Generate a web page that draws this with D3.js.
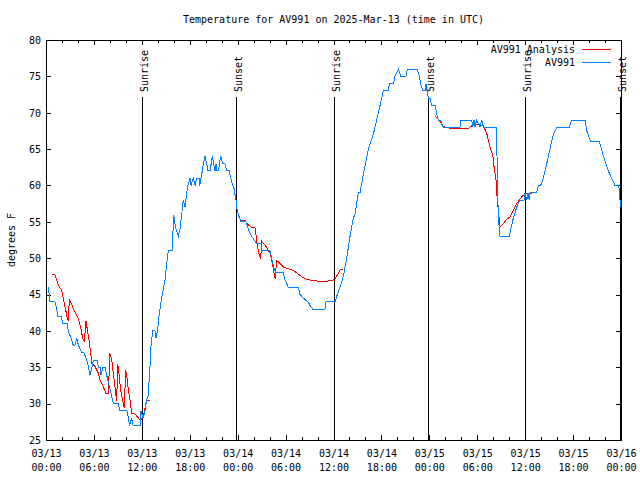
<!DOCTYPE html>
<html><head><meta charset="utf-8">
<script src="https://cdn.jsdelivr.net/npm/d3@7/dist/d3.min.js"></script>
<style>
body{margin:0;background:#fff;}
text{font-family:"DejaVu Sans Mono",monospace;font-size:10px;fill:#000;}
</style></head>
<body><svg id="c" width="640" height="480"></svg>
<script>
const title = "Temperature for AV991 on 2025-Mar-13 (time in UTC)";
const yLabel = "degrees F";
const seriesNames = ["AV991 Analysis", "AV991"];
const seriesColors = ["#ff0000", "#0080ff"];
// hours since 2025-03-13 00:00 UTC
const xMajorTicks = [0,6,12,18,24,30,36,42,48,54,60,66,72];
const xTickLabels = [["03/13","00:00"],["03/13","06:00"],["03/13","12:00"],["03/13","18:00"],
  ["03/14","00:00"],["03/14","06:00"],["03/14","12:00"],["03/14","18:00"],
  ["03/15","00:00"],["03/15","06:00"],["03/15","12:00"],["03/15","18:00"],["03/16","00:00"]];
const yTicks = [25,30,35,40,45,50,55,60,65,70,75,80];
const sunEvents = [["Sunrise",12.02],["Sunset",23.79],["Sunrise",36.06],["Sunset",47.83],["Sunrise",59.98],["Sunset",71.88]];

// observations [hour, degF]
const obs = [[0.29,46],[0.5,44],[1.13,44],[1.34,43],[1.5,42],[1.97,42],[2.04,41],[2.67,41],[2.79,40],[3.13,39],[3.42,38],[3.63,38],[3.84,39],[4.07,38],[4.47,37],[4.76,37],[5.10,36],[5.32,35],[5.51,34],[5.76,35],[5.95,36],[6.39,36],[6.57,35],[6.76,35],[6.89,34],[7.14,35],[7.39,35],[7.58,34],[7.80,33],[8.01,32],[8.23,31],[8.43,30],[9.02,30],[9.27,29],[10.14,29],[10.33,28],[10.45,27],[10.6,27.5],[10.73,28],[10.9,27],[11.8,27],[11.9,29],[12.15,28],[12.4,29],[12.61,30.5],[12.77,31],[12.9,33],[13.02,35],[13.15,38],[13.36,40],[13.65,40],[13.77,39],[13.96,40],[14.15,42],[14.4,44],[14.65,45.5],[14.9,47],[15.19,50],[15.31,51],[15.78,51],[15.86,52.5],[15.99,56],[16.11,55],[16.28,54],[16.57,53],[16.78,54],[16.99,56],[17.19,58],[17.4,57],[17.62,59],[17.78,60],[18.03,61],[18.16,60],[18.44,61],[18.66,60],[18.87,61],[19.16,61],[19.24,60],[19.41,61],[19.57,62],[19.7,63],[19.91,64],[20.12,63],[20.29,62],[20.54,62],[20.82,64],[21.16,62],[21.29,63],[21.41,62],[21.58,62],[21.87,64],[22.16,63],[22.41,63],[22.63,62],[22.95,62],[23.13,61],[23.38,60],[23.58,59.5],[23.7,58.5],[23.79,58],[23.88,57],[24.08,56],[24.42,55],[25.04,55],[25.17,54.5],[25.33,54],[25.54,53.5],[25.76,53],[26.38,52],[26.92,52],[27.01,51],[28.05,51],[28.26,50],[28.46,49],[28.76,48],[29.71,48],[29.93,47],[30.34,46],[31.59,46],[31.81,45],[32.22,44.5],[32.81,44],[33.06,43.5],[33.4,43],[34.94,43],[35.06,44],[36.19,44],[36.48,45],[36.81,46],[37.23,47.5],[37.65,50],[38.07,53],[38.48,55.5],[38.69,56],[39.11,59],[39.32,59],[39.73,61.5],[40.36,65],[40.98,67],[41.2,68],[41.61,70],[42.04,72],[42.24,73],[42.86,73],[42.99,74],[43.49,74],[43.7,75],[44.11,76],[44.42,75],[45.08,75],[45.24,76],[46.49,76],[46.75,75],[46.92,74],[47.17,73],[47.46,73],[47.58,74],[47.75,73],[47.87,72],[48.08,72],[48.29,71],[48.71,71],[48.9,70],[49.12,69],[49.42,69],[49.75,68],[51.84,68],[51.93,69],[53.31,69],[53.43,68],[53.6,69],[53.72,68],[53.91,69],[54.35,68],[54.56,69],[54.76,68],[56.44,68],[56.51,60],[56.64,56],[56.76,54],[56.85,53],[58.01,53],[58.19,54],[58.52,55.5],[58.94,57],[59.35,58],[59.86,58],[59.98,59],[60.19,58],[60.39,59],[60.5,58],[60.61,59],[61.44,59],[61.64,60],[61.94,60],[62.27,61],[62.61,62.5],[62.9,64],[63.2,65.5],[63.52,67],[63.95,68],[65.53,68],[65.83,69],[67.49,69],[67.71,67.5],[67.91,67],[68.21,66],[69.28,66],[69.58,65],[69.79,64],[70.12,63],[70.41,62],[70.84,61],[71.25,60],[71.67,60],[71.79,59.5],[71.88,58],[71.94,57]];

// analysis [hour, degF], null = gap
const analysis = [[0.71,47.7],[1.13,47.7],[1.34,47],[1.67,46],[1.97,45.6],[2.25,44],[2.47,42.9],[2.67,41.7],[2.79,41.5],[2.92,44.25],[3.22,43.6],[3.63,42.6],[4.04,41.7],[4.35,40.4],[4.6,39],[4.8,38.5],[5.01,41.3],[5.22,39.9],[5.38,38.75],[5.6,36.9],[5.76,35.5],[6.14,35.1],[6.55,34.2],[6.76,33.25],[7.18,32.3],[7.51,31.4],[7.8,31.4],[8.01,36.9],[8.23,36],[8.43,34.2],[8.64,32.3],[8.85,30.3],[8.98,35.5],[9.18,33.7],[9.35,31.9],[9.6,30.5],[9.8,29.35],[9.98,34.6],[10.1,34],[10.31,31.9],[10.52,30.5],[10.73,28.7],[11.14,28.6],[11.36,28.3],[11.77,27.75],[12.11,28],[12.4,29.35],[12.61,30.5],[13.02,30.5],
 null,
 [24.29,55.2],[24.92,55.2],[25.33,54.6],[25.76,54.2],[26.17,54.2],[26.3,53.2],[26.46,51.8],[26.71,50.4],[26.88,49.9],[27.01,52.3],[27.42,51.8],[27.84,51.1],[28.05,50.7],[28.26,49.75],[28.46,48.6],[28.68,47.2],[28.89,49.65],[29.3,49.3],[29.71,48.8],[30.14,48.6],[30.77,48.4],[31.39,48],[32.02,47.45],[32.64,47.1],[33.47,46.9],[34.72,46.8],[35.77,46.9],[36.19,47.2],[36.6,47.9],[36.9,48.5],[37.15,48.5],
 null,
 [48.71,69.55],[49.34,68.8],[49.75,68.1],[50.59,67.85],[52.88,67.85],[53.31,68.2],[53.93,68.4],[54.76,68.2],[55.18,67.2],[55.6,65.3],[55.94,64.2],[56.1,62.6],[56.35,60.75],[56.44,58.9],[56.64,56.6],[56.85,54.3],[57.18,54.6],[57.61,55.25],[58.11,55.7],[58.53,56.6],[58.94,57.5],[59.57,58.45],[59.98,58.8],[61.02,59]];

const L=46, R=621, T=40, B=440;
const svg = d3.select("#c");
const x = d3.scaleLinear().domain([0,72]).range([L,R]);
const y = d3.scaleLinear().domain([25,80]).range([B,T]);
const minor = d3.range(0,73,2).filter(h=>h%6!==0);

function clean(g){ g.select(".domain").remove(); g.selectAll("line").attr("stroke","#000").attr("shape-rendering","crispEdges"); g.attr("font-family",null).attr("font-size",null); }

// bottom major with labels
const gb = svg.append("g").attr("transform",`translate(0,${B})`)
  .call(d3.axisBottom(x).tickValues(xMajorTicks).tickSize(-5).tickPadding(0).tickFormat(""));
clean(gb);
gb.selectAll(".tick").each(function(d,i){
  const t = d3.select(this).append("text").attr("text-anchor","middle");
  t.append("tspan").attr("x",0).attr("y",16.5).text(xTickLabels[i][0]);
  t.append("tspan").attr("x",0).attr("y",30.5).text(xTickLabels[i][1]);
});
clean(svg.append("g").attr("transform",`translate(0,${B})`).call(d3.axisBottom(x).tickValues(minor).tickSize(-3).tickFormat("")));
clean(svg.append("g").attr("transform",`translate(0,${T})`).call(d3.axisTop(x).tickValues(xMajorTicks).tickSize(-5).tickFormat("")));
clean(svg.append("g").attr("transform",`translate(0,${T})`).call(d3.axisTop(x).tickValues(minor).tickSize(-3).tickFormat("")));
const gl = svg.append("g").attr("transform",`translate(${L},0)`)
  .call(d3.axisLeft(y).tickValues(yTicks).tickSize(-5).tickPadding(6).tickFormat(d3.format("d")));
clean(gl);
gl.selectAll("text").attr("fill","#000").attr("dy","0.33em").attr("x",-5);
clean(svg.append("g").attr("transform",`translate(${R},0)`).call(d3.axisRight(y).tickValues(yTicks).tickSize(-5).tickFormat("")));

// sun lines
sunEvents.forEach(([name,h])=>{
  const xx = Math.round(x(h))+0.5;
  svg.append("line").attr("x1",xx).attr("x2",xx).attr("y1",97).attr("y2",B).attr("stroke","#000").attr("stroke-width",1).attr("shape-rendering","crispEdges");
  svg.append("text").attr("transform",`translate(${xx+5},92) rotate(-90)`).attr("text-anchor","start").text(name);
});

// lines
const line = d3.line().defined(d=>d!==null).x(d=>x(d[0])).y(d=>y(d[1]));
svg.append("path").attr("d",line(analysis)).attr("fill","none").attr("stroke",seriesColors[0]).attr("stroke-width",1).attr("shape-rendering","crispEdges");
svg.append("path").attr("d",line(obs)).attr("fill","none").attr("stroke",seriesColors[1]).attr("stroke-width",1).attr("shape-rendering","crispEdges");

// border
svg.append("rect").attr("x",L+0.5).attr("y",T+0.5).attr("width",R-L).attr("height",B-T).attr("fill","none").attr("stroke","#000").attr("shape-rendering","crispEdges");

// legend
seriesNames.forEach((n,i)=>{
  const ly = 49 + i*13;
  svg.append("text").attr("x",575).attr("y",ly+3.5).attr("text-anchor","end").text(n);
  svg.append("line").attr("x1",582).attr("x2",611).attr("y1",ly+0.5).attr("y2",ly+0.5).attr("stroke",seriesColors[i]).attr("stroke-width",1).attr("shape-rendering","crispEdges");
});

// title & y label
svg.append("text").attr("x",(L+R)/2).attr("y",23).attr("text-anchor","middle").text(title);
svg.append("text").attr("transform",`translate(15,240) rotate(-90)`).attr("text-anchor","middle").text(yLabel);
</script></body></html>
